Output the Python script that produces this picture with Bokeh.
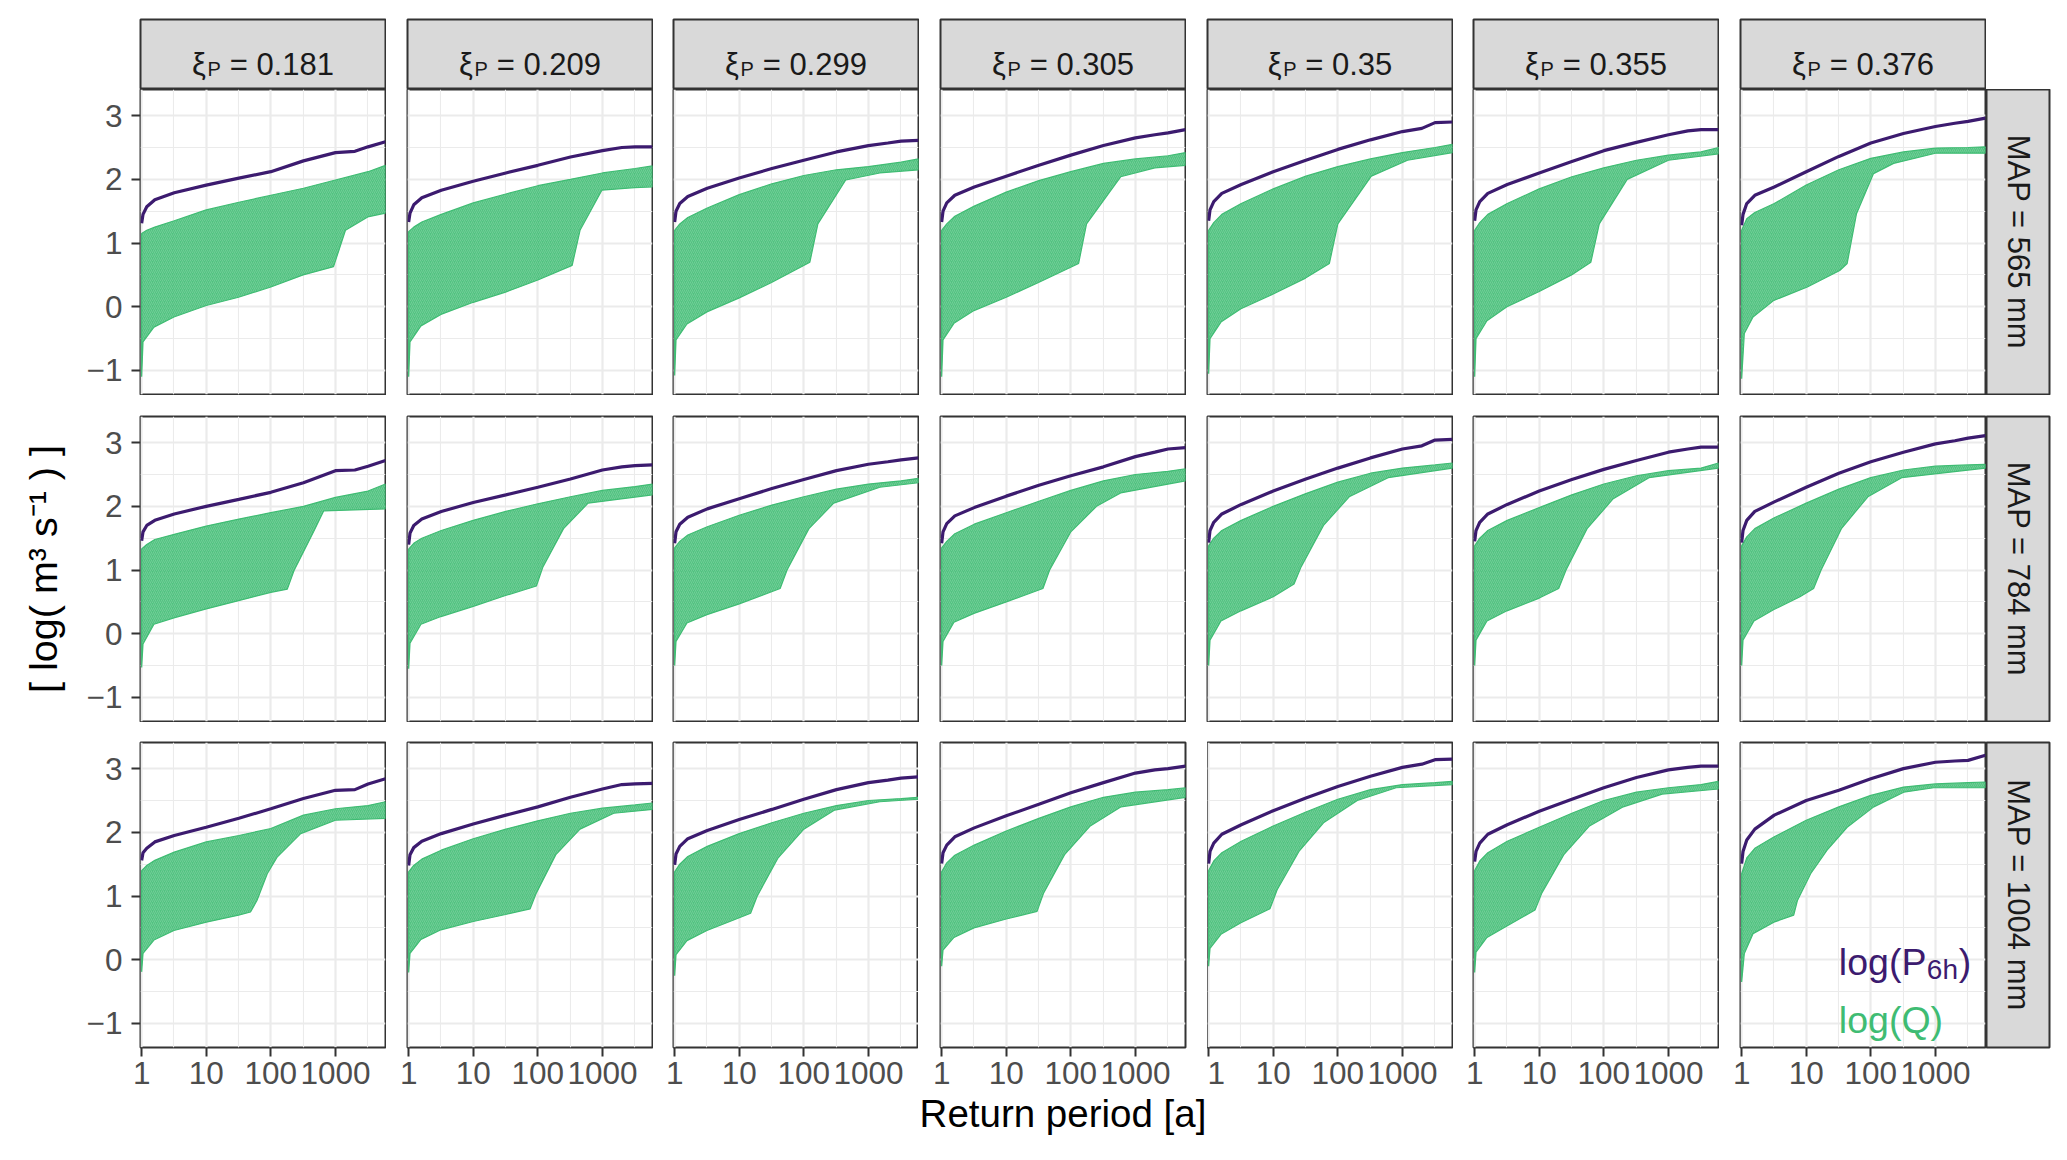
import math
from bokeh.plotting import figure
from bokeh.layouts import row, column
from bokeh.models import Range1d, LinearAxis, LogAxis, FixedTicker, Grid, Label, LogScale
from bokeh.embed import file_html
from bokeh.resources import INLINE

# ---------------- data ----------------
XI = ["0.181", "0.209", "0.299", "0.305", "0.35", "0.355", "0.376"]
MAP = ["565", "784", "1004"]

X_TICKS = [1, 10, 100, 1000]
Y_TICKS = [-1, 0, 1, 2, 3]

# return periods at which the purple log(P6h) curves were read
P6H_T = [1, 1.05, 1.2, 1.6, 3.2, 10, 32, 100, 320, 1000, 2000, 3200, 5960]
P6H_565 = [
    [1.31, 1.45, 1.57, 1.68, 1.79, 1.91, 2.02, 2.12, 2.29, 2.42, 2.44, 2.51, 2.59],
    [1.33, 1.47, 1.60, 1.71, 1.83, 1.97, 2.10, 2.22, 2.35, 2.45, 2.50, 2.51, 2.51],
    [1.33, 1.50, 1.62, 1.73, 1.86, 2.02, 2.17, 2.30, 2.43, 2.53, 2.57, 2.60, 2.61],
    [1.33, 1.50, 1.63, 1.75, 1.88, 2.05, 2.22, 2.38, 2.53, 2.65, 2.70, 2.73, 2.78],
    [1.35, 1.52, 1.65, 1.78, 1.92, 2.12, 2.30, 2.47, 2.62, 2.75, 2.80, 2.89, 2.90],
    [1.35, 1.52, 1.65, 1.78, 1.92, 2.10, 2.28, 2.45, 2.58, 2.70, 2.76, 2.78, 2.78],
    [1.28, 1.45, 1.62, 1.75, 1.88, 2.12, 2.36, 2.57, 2.72, 2.83, 2.88, 2.91, 2.96],
]
P6H_784 = [
    [1.46, 1.60, 1.70, 1.78, 1.88, 2.00, 2.11, 2.22, 2.37, 2.56, 2.57, 2.63, 2.72],
    [1.40, 1.58, 1.70, 1.80, 1.92, 2.06, 2.18, 2.30, 2.43, 2.57, 2.62, 2.64, 2.65],
    [1.42, 1.60, 1.72, 1.83, 1.96, 2.12, 2.28, 2.42, 2.56, 2.66, 2.70, 2.73, 2.76],
    [1.42, 1.60, 1.73, 1.85, 1.98, 2.16, 2.33, 2.48, 2.62, 2.78, 2.85, 2.90, 2.92],
    [1.43, 1.62, 1.75, 1.88, 2.03, 2.24, 2.43, 2.60, 2.76, 2.90, 2.95, 3.04, 3.05],
    [1.45, 1.62, 1.75, 1.88, 2.03, 2.24, 2.42, 2.58, 2.72, 2.85, 2.90, 2.93, 2.93],
    [1.43, 1.62, 1.78, 1.92, 2.07, 2.30, 2.52, 2.70, 2.85, 2.98, 3.03, 3.07, 3.11],
]
P6H_1004 = [
    [1.56, 1.68, 1.75, 1.85, 1.95, 2.08, 2.22, 2.37, 2.53, 2.66, 2.67, 2.76, 2.84],
    [1.48, 1.65, 1.76, 1.86, 1.98, 2.13, 2.27, 2.40, 2.55, 2.68, 2.75, 2.76, 2.77],
    [1.49, 1.66, 1.78, 1.90, 2.03, 2.20, 2.36, 2.52, 2.67, 2.78, 2.82, 2.85, 2.87],
    [1.51, 1.68, 1.80, 1.93, 2.07, 2.26, 2.44, 2.62, 2.78, 2.93, 2.98, 3.00, 3.04],
    [1.51, 1.70, 1.83, 1.97, 2.12, 2.34, 2.54, 2.72, 2.88, 3.02, 3.07, 3.14, 3.15],
    [1.54, 1.70, 1.83, 1.97, 2.12, 2.33, 2.52, 2.70, 2.86, 2.98, 3.02, 3.04, 3.04],
    [1.51, 1.70, 1.88, 2.05, 2.27, 2.50, 2.66, 2.84, 3.00, 3.10, 3.12, 3.13, 3.21],
]

# upper edge of the bundle of log(Q) curves
QTOP_T = [1, 1.2, 1.6, 3.2, 10, 32, 100, 320, 1000, 3200, 5960]
QTOP_565 = [
    [1.15, 1.20, 1.25, 1.35, 1.52, 1.64, 1.75, 1.86, 1.99, 2.12, 2.22],
    [1.18, 1.25, 1.33, 1.45, 1.63, 1.77, 1.90, 2.00, 2.10, 2.17, 2.21],
    [1.20, 1.30, 1.40, 1.55, 1.76, 1.93, 2.06, 2.15, 2.20, 2.27, 2.32],
    [1.20, 1.30, 1.42, 1.58, 1.80, 1.98, 2.12, 2.25, 2.32, 2.37, 2.42],
    [1.20, 1.32, 1.45, 1.62, 1.85, 2.05, 2.20, 2.32, 2.42, 2.50, 2.55],
    [1.20, 1.32, 1.45, 1.62, 1.85, 2.04, 2.18, 2.30, 2.38, 2.43, 2.50],
    [1.20, 1.38, 1.48, 1.62, 1.91, 2.15, 2.33, 2.43, 2.49, 2.50, 2.51],
]
QTOP_784 = [
    [1.33, 1.40, 1.48, 1.56, 1.69, 1.80, 1.90, 2.00, 2.14, 2.24, 2.35],
    [1.33, 1.42, 1.50, 1.62, 1.78, 1.92, 2.04, 2.15, 2.25, 2.31, 2.35],
    [1.35, 1.45, 1.55, 1.68, 1.86, 2.02, 2.15, 2.27, 2.35, 2.40, 2.44],
    [1.35, 1.45, 1.57, 1.72, 1.90, 2.08, 2.25, 2.40, 2.50, 2.55, 2.59],
    [1.38, 1.50, 1.62, 1.78, 2.00, 2.20, 2.38, 2.52, 2.60, 2.65, 2.68],
    [1.38, 1.50, 1.62, 1.78, 1.98, 2.18, 2.35, 2.48, 2.56, 2.60, 2.68],
    [1.38, 1.52, 1.65, 1.82, 2.05, 2.27, 2.45, 2.57, 2.63, 2.65, 2.66],
]
QTOP_1004 = [
    [1.40, 1.48, 1.56, 1.69, 1.85, 1.95, 2.06, 2.27, 2.37, 2.42, 2.48],
    [1.38, 1.48, 1.58, 1.72, 1.90, 2.05, 2.18, 2.30, 2.38, 2.43, 2.46],
    [1.38, 1.50, 1.62, 1.78, 1.98, 2.15, 2.30, 2.42, 2.50, 2.53, 2.55],
    [1.38, 1.52, 1.64, 1.80, 2.02, 2.22, 2.40, 2.55, 2.63, 2.67, 2.70],
    [1.40, 1.55, 1.68, 1.86, 2.10, 2.32, 2.52, 2.67, 2.75, 2.78, 2.80],
    [1.40, 1.55, 1.68, 1.86, 2.08, 2.30, 2.50, 2.63, 2.70, 2.75, 2.80],
    [1.35, 1.60, 1.75, 1.93, 2.19, 2.40, 2.58, 2.71, 2.76, 2.78, 2.79],
]

# lower edge of the bundle of log(Q) curves (return period, value)
QBOT_T_565 = [
    [1, 1.05, 1.55, 3.16, 10, 31.6, 100, 316, 935, 1430, 3162, 5960],
    [1, 1.05, 1.55, 3.16, 10, 31.6, 100, 340, 450, 980, 3162, 5960],
    [1, 1.05, 1.55, 3.16, 10, 31.6, 124, 165, 445, 1500, 5960],
    [1, 1.05, 1.55, 3.16, 10, 31.6, 132, 175, 590, 2000, 5960],
    [1, 1.05, 1.55, 3.16, 10, 31.6, 74, 100, 330, 1200, 5960],
    [1, 1.05, 1.55, 3.16, 10, 31.6, 63, 85, 230, 1000, 5960],
    [1, 1.1, 1.5, 3.15, 10.4, 33, 43, 60, 110, 225, 1000, 5960],
]
QBOT_565 = [
    [-1.10, -0.55, -0.32, -0.16, 0.02, 0.15, 0.31, 0.50, 0.63, 1.20, 1.41, 1.47],
    [-1.10, -0.55, -0.30, -0.12, 0.07, 0.23, 0.42, 0.65, 1.20, 1.83, 1.87, 1.88],
    [-1.08, -0.52, -0.27, -0.08, 0.14, 0.38, 0.70, 1.30, 1.99, 2.10, 2.15],
    [-1.10, -0.52, -0.26, -0.06, 0.15, 0.38, 0.68, 1.30, 2.04, 2.18, 2.22],
    [-1.05, -0.50, -0.24, -0.03, 0.20, 0.45, 0.68, 1.30, 2.05, 2.30, 2.42],
    [-1.10, -0.50, -0.22, 0.00, 0.24, 0.50, 0.70, 1.30, 2.00, 2.30, 2.40],
    [-1.13, -0.42, -0.16, 0.10, 0.31, 0.57, 0.68, 1.46, 2.09, 2.25, 2.41, 2.41],
]
QBOT_T_784 = [
    [1, 1.05, 1.55, 3.16, 10, 31.6, 100, 180, 228, 463, 660, 5960],
    [1, 1.05, 1.55, 3.16, 10, 31.6, 95, 120, 250, 600, 5960],
    [1, 1.05, 1.55, 3.16, 10, 43, 55, 120, 290, 1500, 5960],
    [1, 1.05, 1.55, 3.16, 10, 37, 47, 100, 250, 590, 5960],
    [1, 1.05, 1.55, 3.16, 10, 21, 27, 60, 150, 600, 5960],
    [1, 1.05, 1.55, 3.16, 10, 20, 26, 55, 140, 500, 5960],
    [1, 1.05, 1.55, 3.16, 8, 13, 17, 35, 90, 300, 5960],
]
QBOT_784 = [
    [-0.53, -0.16, 0.15, 0.25, 0.39, 0.52, 0.65, 0.70, 0.99, 1.61, 1.93, 1.96],
    [-0.55, -0.15, 0.15, 0.27, 0.43, 0.60, 0.75, 1.05, 1.65, 2.05, 2.18],
    [-0.50, -0.12, 0.17, 0.30, 0.47, 0.71, 1.00, 1.65, 2.05, 2.30, 2.37],
    [-0.50, -0.12, 0.18, 0.32, 0.50, 0.71, 1.00, 1.60, 2.00, 2.21, 2.40],
    [-0.50, -0.10, 0.20, 0.36, 0.58, 0.78, 1.05, 1.70, 2.15, 2.45, 2.60],
    [-0.50, -0.10, 0.20, 0.36, 0.56, 0.71, 1.00, 1.65, 2.12, 2.45, 2.60],
    [-0.50, -0.10, 0.20, 0.38, 0.58, 0.71, 1.00, 1.65, 2.15, 2.45, 2.60],
]
QBOT_T_1004 = [
    [1, 1.05, 1.55, 3.16, 10, 31.6, 48.5, 61, 88, 125, 290, 1000, 5960],
    [1, 1.05, 1.55, 3.16, 10, 31.6, 76, 95, 190, 450, 1500, 5960],
    [1, 1.05, 1.55, 3.16, 8, 15, 19, 40, 100, 300, 1500, 5960],
    [1, 1.05, 1.55, 3.16, 10, 30, 38, 80, 200, 600, 5960],
    [1, 1.05, 1.55, 3.16, 8.9, 11.5, 25, 60, 200, 800, 5960],
    [1, 1.05, 1.55, 3.16, 8.6, 11, 24, 60, 200, 800, 5960],
    [1, 1.1, 1.5, 3.15, 6.4, 7.3, 11.7, 21, 43, 111, 323, 940, 5960],
]
QBOT_1004 = [
    [-0.19, 0.10, 0.31, 0.46, 0.59, 0.70, 0.75, 0.93, 1.35, 1.61, 1.98, 2.19, 2.22],
    [-0.20, 0.10, 0.32, 0.47, 0.60, 0.71, 0.80, 1.05, 1.65, 2.05, 2.30, 2.36],
    [-0.25, 0.08, 0.30, 0.46, 0.62, 0.73, 1.00, 1.60, 2.05, 2.35, 2.48, 2.52],
    [-0.10, 0.15, 0.35, 0.50, 0.64, 0.76, 1.05, 1.65, 2.10, 2.40, 2.55],
    [-0.10, 0.18, 0.40, 0.58, 0.80, 1.10, 1.70, 2.15, 2.50, 2.70, 2.75],
    [-0.20, 0.12, 0.35, 0.53, 0.78, 1.05, 1.65, 2.10, 2.40, 2.60, 2.68],
    [-0.35, 0.10, 0.41, 0.59, 0.70, 0.93, 1.35, 1.72, 2.08, 2.40, 2.63, 2.70, 2.70],
]

P6H = [P6H_565, P6H_784, P6H_1004]
QTOP = [QTOP_565, QTOP_784, QTOP_1004]
QBOT_T = [QBOT_T_565, QBOT_T_784, QBOT_T_1004]
QBOT = [QBOT_565, QBOT_784, QBOT_1004]

# ---------------- style / layout ----------------
FONT = "Liberation Sans"
PURPLE = "#3C1B6F"
GREEN = "#3FBC73"
EDGE = "#333333"
PW, PH = 245, 305
X_RANGE = (0.96, 5960)
Y_RANGE = (-1.377, 3.41)
LEFT_B = [140, 21, 20, 21, 21, 20, 21]
TOP_B = [0, 21, 20]
BOT_B = [1, 1, 62]
STRIP_H = 70
STRIP_TOP = 19
TICK_FS = "31.5px"
TITLE_FS = "38.5px"


def borders(r, c):
    """left/right canvas borders; the bottom-centre panel gets a wider canvas
    (taken from its neighbours) so that the x-axis title fits in it."""
    left, right = LEFT_B[c], 1
    if r == 2:
        if c == 2:
            right = 0
        elif c == 3:
            left, right = LEFT_B[3] + 1, 1 + LEFT_B[4]
        elif c == 4:
            left = 0
    return left, right


def style_axis(ax):
    ax.axis_line_color = None
    ax.major_tick_line_color = EDGE
    ax.major_tick_line_width = 2
    ax.major_tick_out = 9
    ax.major_tick_in = 0
    ax.minor_tick_line_color = None
    ax.major_label_text_font = FONT
    ax.major_label_text_font_size = TICK_FS
    ax.major_label_text_color = "#4D4D4D"
    ax.axis_label_text_font = FONT
    ax.axis_label_text_font_size = TITLE_FS
    ax.axis_label_text_font_style = "normal"
    ax.axis_label_text_color = "black"


def make_panel(r, c):
    bl, br = borders(r, c)
    p = figure(frame_width=PW, frame_height=PH,
               x_range=Range1d(*X_RANGE), y_range=Range1d(*Y_RANGE),
               x_axis_type="log", x_axis_location=None, y_axis_location=None,
               toolbar_location=None, output_backend="svg", title=None,
               min_border=0, min_border_left=bl, min_border_right=br,
               min_border_top=TOP_B[r], min_border_bottom=BOT_B[r])
    p.x_scale = LogScale()
    p.center = []
    p.background_fill_color = "white"
    p.border_fill_color = "white"
    p.outline_line_color = EDGE
    p.outline_line_width = 2

    p.add_layout(Grid(dimension=0, ticker=FixedTicker(ticks=X_TICKS, minor_ticks=[3.1623, 31.623, 316.23, 3162.3]),
                      grid_line_color="#EBEBEB", grid_line_width=2.2,
                      minor_grid_line_color="#EBEBEB", minor_grid_line_width=1.1))
    p.add_layout(Grid(dimension=1, ticker=FixedTicker(ticks=Y_TICKS, minor_ticks=[-0.5, 0.5, 1.5, 2.5]),
                      grid_line_color="#EBEBEB", grid_line_width=2.2,
                      minor_grid_line_color="#EBEBEB", minor_grid_line_width=1.1))

    top = QTOP[r][c]
    bt, bv = QBOT_T[r][c], QBOT[r][c]
    xs = list(QTOP_T) + list(reversed(bt))
    ys = list(top) + list(reversed(bv))
    p.patch(xs, ys, fill_color=GREEN, fill_alpha=0.9, line_color=GREEN, line_width=1.2,
            hatch_pattern="/", hatch_color="white", hatch_alpha=0.22, hatch_scale=4, hatch_weight=0.8)
    p.line(P6H_T, P6H[r][c], line_color=PURPLE, line_width=3.2)

    if c == 0:
        ya = LinearAxis(ticker=FixedTicker(ticks=Y_TICKS),
                        major_label_overrides={-1: "\u22121", 0: "0", 1: "1", 2: "2", 3: "3"})
        style_axis(ya)
        ya.major_label_standoff = 9
        if r == 1:
            ya.axis_label = "[ log( m\u00b3 s\u207b\u00b9 ) ]"
            ya.axis_label_text_font_size = "39.5px"
            ya.axis_label_standoff = 19
        p.add_layout(ya, "left")
    if r == 2:
        xa = LogAxis(ticker=FixedTicker(ticks=X_TICKS),
                     major_label_overrides={1: "1", 10: "10", 100: "100", 1000: "1000"})
        style_axis(xa)
        xa.major_label_standoff = 5
        if c == 3:
            xa.axis_label = "Return period [a]"
            xa.axis_label_standoff = 5
        p.add_layout(xa, "below")
    if r == 2 and c == 6:
        # legend text
        p.add_layout(Label(x=32, y=-0.03, text="log(P", text_font=FONT, text_font_size="37.5px",
                           text_color=PURPLE, text_baseline="alphabetic", text_align="left"))
        p.add_layout(Label(x=32, y=-0.155, x_offset=88, text="6h", text_font=FONT, text_font_size="28px",
                           text_color=PURPLE, text_baseline="alphabetic", text_align="left"))
        p.add_layout(Label(x=32, y=-0.03, x_offset=120, text=")", text_font=FONT, text_font_size="37.5px",
                           text_color=PURPLE, text_baseline="alphabetic", text_align="left"))
        p.add_layout(Label(x=32, y=-0.95, text="log(Q)", text_font=FONT, text_font_size="37.5px",
                           text_color=GREEN, text_baseline="alphabetic", text_align="left"))
    return p


def make_top_strip(c):
    s = figure(frame_width=PW, frame_height=STRIP_H, x_range=Range1d(0, PW), y_range=Range1d(0, STRIP_H),
               x_axis_location=None, y_axis_location=None, toolbar_location=None,
               output_backend="svg", title=None, min_border=0,
               min_border_left=LEFT_B[c], min_border_right=1, min_border_top=STRIP_TOP, min_border_bottom=0)
    s.center = []
    s.background_fill_color = "#D9D9D9"
    s.border_fill_color = "white"
    s.outline_line_color = EDGE
    s.outline_line_width = 2
    val = XI[c]
    fs = 31
    w_xi, w_p = 15.5, 13.5
    w_rest = (0.278 * 2 + 0.584) * fs + sum(0.278 * fs if ch == "." else 0.556 * fs for ch in val)
    total = w_xi + w_p + w_rest
    x0 = (PW - total) / 2.0
    s.add_layout(Label(x=x0, y=25.4, text="\u03be", text_font=FONT, text_font_size="%dpx" % fs,
                       text_color="#1A1A1A", text_baseline="alphabetic", text_align="left"))
    s.add_layout(Label(x=x0 + w_xi, y=20.4, text="P", text_font=FONT, text_font_size="20px",
                       text_color="#1A1A1A", text_baseline="alphabetic", text_align="left"))
    s.add_layout(Label(x=x0 + w_xi + w_p, y=25.4, text="\u00a0=\u00a0" + val, text_font=FONT,
                       text_font_size="%dpx" % fs,
                       text_color="#1A1A1A", text_baseline="alphabetic", text_align="left"))
    return s


def make_right_strip(r):
    s = figure(frame_width=63, frame_height=PH, x_range=Range1d(0, 63), y_range=Range1d(0, PH),
               x_axis_location=None, y_axis_location=None, toolbar_location=None,
               output_backend="svg", title=None, min_border=0,
               min_border_left=0, min_border_right=2, min_border_top=TOP_B[r], min_border_bottom=BOT_B[r])
    s.center = []
    s.background_fill_color = "#D9D9D9"
    s.border_fill_color = "white"
    s.outline_line_color = EDGE
    s.outline_line_width = 2
    s.add_layout(Label(x=31.5, y=PH / 2.0, text="MAP = " + MAP[r] + " mm", angle=-math.pi / 2,
                       text_font=FONT, text_font_size="31px", text_color="#1A1A1A",
                       text_align="center", text_baseline="middle"))
    return s


strip_row = row(*[make_top_strip(c) for c in range(7)], spacing=0)
panel_rows = []
for r in range(3):
    panel_rows.append(row(*[make_panel(r, c) for c in range(7)], make_right_strip(r), spacing=0))

layout = column(strip_row, *panel_rows, spacing=0)

open("out.html", "w").write(file_html(layout, INLINE))
